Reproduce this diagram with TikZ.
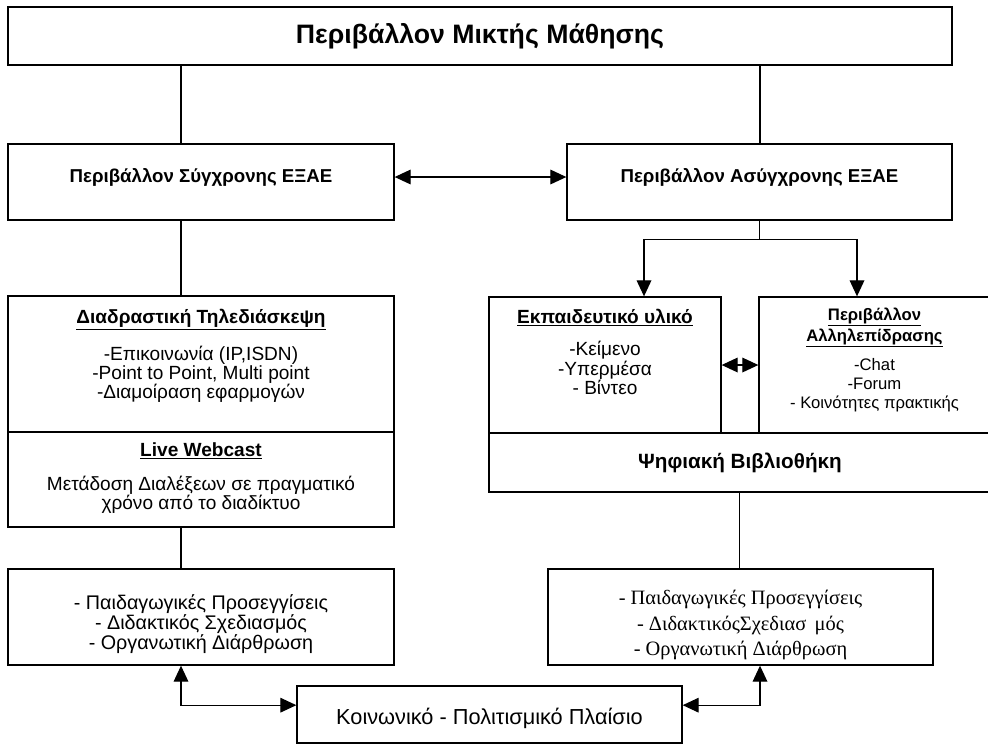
\documentclass[tikz,border=0pt]{standalone}
\usepackage{fontspec}
\setmainfont{Liberation Sans}
\newfontfamily\serifgr{Liberation Serif}
\usetikzlibrary{arrows.meta}

\begin{document}
\begin{tikzpicture}[x=0.75pt, y=-0.75pt,
    box/.style={draw, line width=1pt, inner sep=0pt, align=center},
    link/.style={line width=0.9pt},
    tip/.style={line width=0.9pt, -{Triangle[length=12pt,width=11pt]}},
    both/.style={line width=0.9pt, {Triangle[length=12pt,width=11pt]}-{Triangle[length=12pt,width=11pt]}},
    head/.style={font=\bfseries\fontsize{14}{16}\selectfont},
    body/.style={font=\fontsize{14.3}{14.5}\selectfont, align=center}]

    % Page size of the reference
    \def\px{0.75pt}
    \useasboundingbox (0,0) rectangle (988,744);
    \clip (0,0) rectangle (988,744);

    % Vertical lines used by the connectors
    \coordinate (lx) at (181,0);
    \coordinate (rx) at (760,0);
    \coordinate (ea) at (644,0);
    \coordinate (ia) at (857,0);

    % Top box
    \node[box, minimum width=944*\px, minimum height=58*\px, font=\bfseries\fontsize{20}{22}\selectfont]
        (top) at (480,36) {Περιβάλλον Μικτής Μάθησης};

    % Synchronous and asynchronous boxes
    \node[box, minimum width=386*\px, minimum height=76*\px] (sync) at (201,182) {};
    \node[box, minimum width=385*\px, minimum height=76*\px] (async) at (759.5,182) {};
    \node[head] (sync-txt) at (201,177) {Περιβάλλον Σύγχρονης ΕΞΑΕ};
    \node[head] (async-txt) at (759.5,177) {Περιβάλλον Ασύγχρονης ΕΞΑΕ};

    % Left column
    \node[box, minimum width=386*\px, minimum height=136*\px] (tele) at (201,364) {};
    \node[box, minimum width=386*\px, minimum height=95*\px] (cast) at (201,479.5) {};
    \node[body, anchor=north] (tele-txt) at (201,304)
        {\underline{\textbf{Διαδραστική Τηλεδιάσκεψη}}\\[11pt]
         -Επικοινωνία (IP,ISDN)\\ -Point to Point, Multi point\\ -Διαμοίραση εφαρμογών};
    \node[body, anchor=north] (cast-txt) at (201,438)
        {\underline{\textbf{Live Webcast}}\\[11pt]
         Μετάδοση Διαλέξεων σε πραγματικό\\ χρόνο από το διαδίκτυο};

    % Right column
    \node[box, minimum width=232*\px, minimum height=136*\px] (edu) at (605,365) {};
    \node[box, minimum width=231*\px, minimum height=136*\px] (inter) at (874.5,365) {};
    \node[box, minimum width=501*\px, minimum height=59*\px] (lib) at (739.5,462.5) {};
    \node[head, font=\bfseries\fontsize{15.5}{18}\selectfont] (lib-txt) at (740,463) {Ψηφιακή Βιβλιοθήκη};
    \node[body, anchor=north] (edu-txt) at (605,304)
        {\underline{\textbf{Εκπαιδευτικό υλικό}}\\[10pt]
         -Κείμενο\\ -Υπερμέσα\\ - Βίντεο};
    \node[body, anchor=north, font=\fontsize{12.5}{14.3}\selectfont] (inter-txt) at (874.5,303)
        {\underline{\textbf{Περιβάλλον}}\\[1.5pt] \underline{\textbf{Αλληλεπίδρασης}}\\[7.5pt]
         -Chat\\ -Forum\\ - Κοινότητες πρακτικής};

    % Pedagogical boxes
    \node[box, minimum width=386*\px, minimum height=96*\px] (leftped) at (201,617) {};
    \node[box, minimum width=385*\px, minimum height=96*\px] (rightped) at (740.5,617) {};
    \node[body, font=\fontsize{14.8}{15}\selectfont] (leftped-txt) at (201,624.5)
        {- Παιδαγωγικές Προσεγγίσεις\\ - Διδακτικός Σχεδιασμός\\ - Οργανωτική Διάρθρωση};
    \node[body, font=\serifgr\fontsize{15.3}{18.8}\selectfont] (rightped-txt) at (740.5,625)
        {- Παιδαγωγικές Προσεγγίσεις\\ - ΔιδακτικόςΣχεδιασ\, μός\\ - Οργανωτική Διάρθρωση};

    % Social context
    \node[box, minimum width=385*\px, minimum height=57*\px] (social) at (489.5,714.5) {};
    \node[font=\fontsize{16.3}{18}\selectfont] (social-txt) at (489.5,718.5)
        {Κοινωνικό - Πολιτισμικό Πλαίσιο};

    % Plain links
    \draw[link] (top.south -| lx) -- (sync.north -| lx);
    \draw[link] (top.south -| rx) -- (async.north -| rx);
    \draw[link] (sync.south -| lx) -- (tele.north -| lx);
    \draw[link] (cast.south -| lx) -- (leftped.north -| lx);
    \draw[link] (lib.south) -- (rightped.north -| lib.south);

    % Split towards the asynchronous parts
    \draw[link] (async.south) -- ++(0,19) coordinate (split);
    \draw[tip] (split) -| (edu.north -| ea);
    \draw[tip] (split) -| (inter.north -| ia);

    % Two way arrows
    \draw[both] ([yshift=3.75pt]sync.east) -- ([yshift=3.75pt]async.west);
    \draw[both] (edu.east) -- (inter.west);
    \draw[both] ([yshift=7pt]social.west) -| (leftped.south -| lx);
    \draw[both] ([yshift=7pt]social.east) -| (rightped.south -| rx);

\end{tikzpicture}
\end{document}
